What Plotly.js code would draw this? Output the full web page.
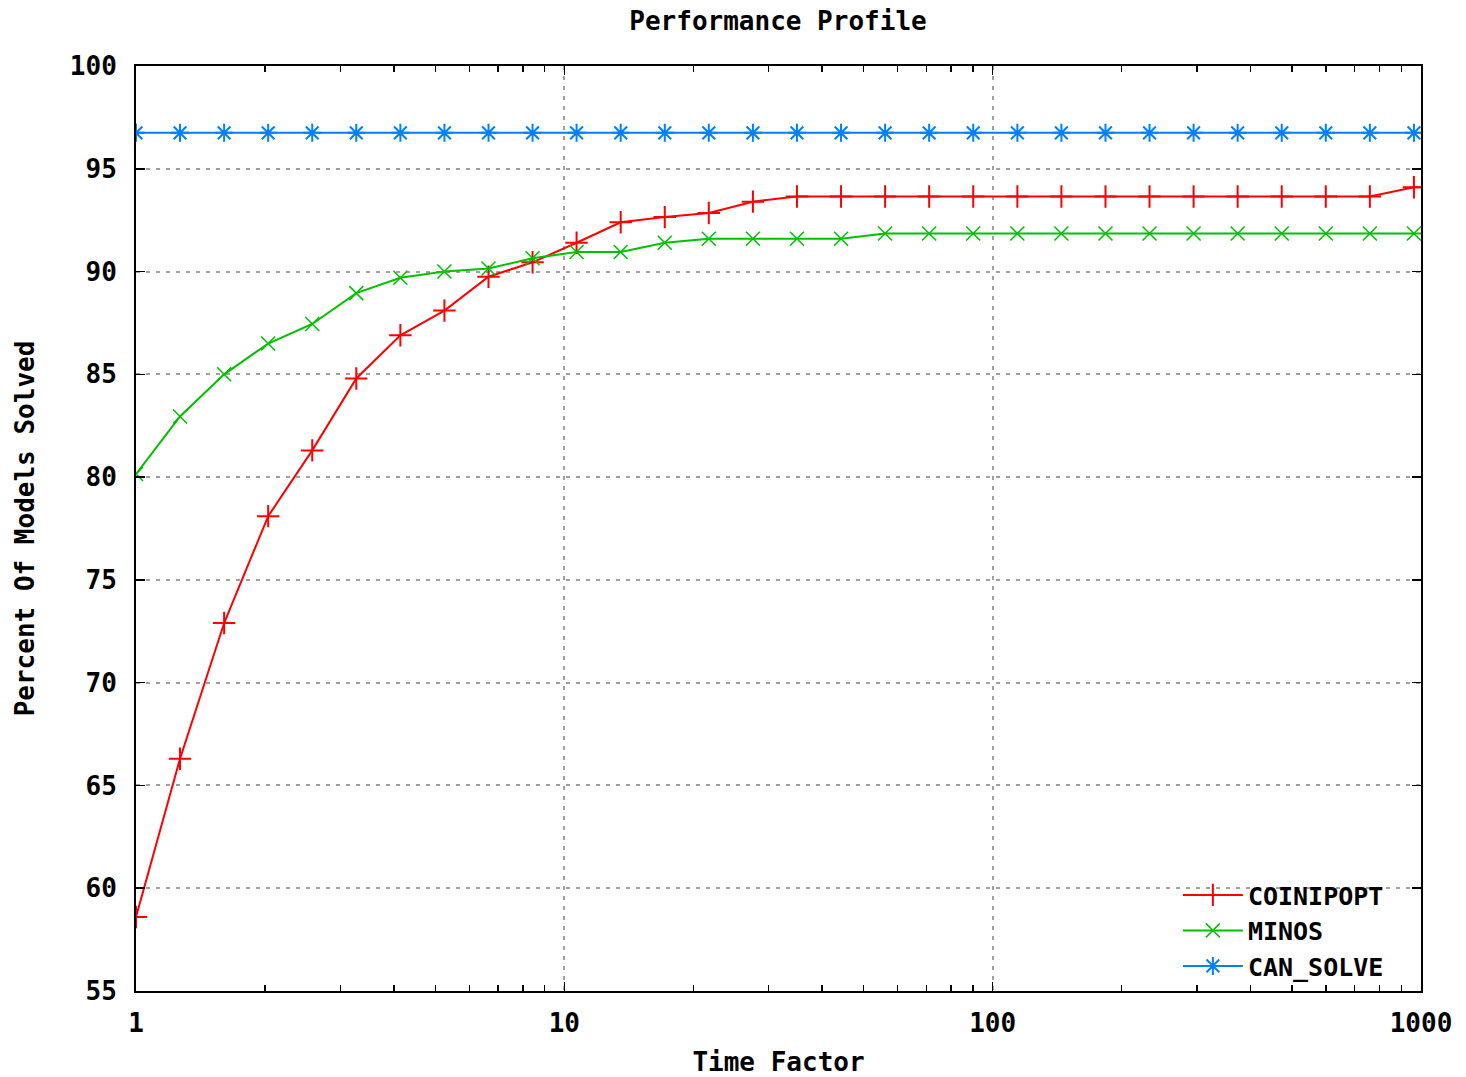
<!DOCTYPE html>
<html>
<head>
<meta charset="utf-8">
<script src="https://cdn.plot.ly/plotly-3.0.1.min.js"></script>
<style>html,body{margin:0;padding:0;background:#fff;}#chart{width:1466px;height:1077px;}</style>
</head>
<body>
<div id="chart"></div>
<script>
// Time factor (x) values at each sample point
const timeFactor = [1, 1.267, 1.606, 2.035, 2.579, 3.268, 4.142, 5.249, 6.652, 8.43,
  10.68, 13.54, 17.16, 21.74, 27.56, 34.92, 44.26, 56.09, 71.08, 90.08,
  114.2, 144.7, 183.4, 232.4, 294.5, 373.2, 473.0, 599.4, 759.6, 962.7, 1220];

const coinipopt = [58.6, 66.3, 72.9, 78.1, 81.3, 84.8, 86.9, 88.1, 89.75, 90.45,
  91.4, 92.4, 92.65, 92.85, 93.4, 93.65, 93.65, 93.65, 93.65, 93.65,
  93.65, 93.65, 93.65, 93.65, 93.65, 93.65, 93.65, 93.65, 93.65, 94.1, 94.1];

const minos = [80.15, 82.95, 85.0, 86.5, 87.45, 88.95, 89.7, 90.0, 90.15, 90.65,
  90.95, 90.95, 91.4, 91.6, 91.6, 91.6, 91.6, 91.85, 91.85, 91.85,
  91.85, 91.85, 91.85, 91.85, 91.85, 91.85, 91.85, 91.85, 91.85, 91.85, 91.85];

const canSolve = [96.75, 96.75, 96.75, 96.75, 96.75, 96.75, 96.75, 96.75, 96.75, 96.75,
  96.75, 96.75, 96.75, 96.75, 96.75, 96.75, 96.75, 96.75, 96.75, 96.75,
  96.75, 96.75, 96.75, 96.75, 96.75, 96.75, 96.75, 96.75, 96.75, 96.75, 96.75];

const seriesNames = ["COINIPOPT", "MINOS", "CAN_SOLVE"];
const xTickVals = [1, 10, 100, 1000];
const xTickText = ["1", "10", "100", "1000"];
const yTickVals = [55, 60, 65, 70, 75, 80, 85, 90, 95, 100];

const FONT = {family: "DejaVu Sans Mono, monospace", size: 26, color: "#000", weight: "bold"};
const LEGEND_FONT = {family: "DejaVu Sans Mono, monospace", size: 25, color: "#000", weight: "bold"};

const traces = [
  {x: timeFactor, y: coinipopt, name: seriesNames[0], type: "scatter", mode: "lines+markers",
   line: {color: "#ff0000", width: 2},
   marker: {symbol: "cross-thin", size: 16, line: {color: "#ff0000", width: 2}}},
  {x: timeFactor, y: minos, name: seriesNames[1], type: "scatter", mode: "lines+markers",
   line: {color: "#00c000", width: 2},
   marker: {symbol: "x-thin", size: 14, line: {color: "#00c000", width: 1.5}}},
  {x: timeFactor, y: canSolve, name: seriesNames[2], type: "scatter", mode: "lines+markers",
   line: {color: "#0080ff", width: 2},
   marker: {symbol: "asterisk", size: 15, line: {color: "#0080ff", width: 2}}}
];

const layout = {
  width: 1466, height: 1077,
  paper_bgcolor: "#fff", plot_bgcolor: "#fff",
  margin: {l: 136, r: 45, t: 66, b: 86, pad: 0},
  font: FONT,
  showlegend: true,
  title: {text: "Performance Profile", font: FONT, x: 0.5307, xanchor: "center", y: 0.981, yanchor: "middle"},
  xaxis: {
    type: "log", range: [0, 3], autorange: false,
    tickvals: xTickVals, ticktext: xTickText,
    ticks: "inside", ticklen: 9, tickwidth: 1.5, tickcolor: "#000",
    showline: true, linecolor: "#000", linewidth: 2, mirror: "ticks",
    showgrid: true, gridcolor: "#a0a0a0", gridwidth: 2, griddash: "4px,6px",
    zeroline: false,
    tickfont: FONT, ticklabelstandoff: 8,
    minor: {dtick: "D1", ticks: "inside", ticklen: 6, tickwidth: 1.5, tickcolor: "#000", showgrid: false},
    title: {text: "Time Factor", font: FONT, standoff: 35}
  },
  yaxis: {
    range: [55, 100], autorange: false,
    tickvals: yTickVals,
    ticks: "inside", ticklen: 9, tickwidth: 1.5, tickcolor: "#000",
    showline: true, linecolor: "#000", linewidth: 2, mirror: "ticks",
    showgrid: true, gridcolor: "#a0a0a0", gridwidth: 2, griddash: "4px,6px",
    zeroline: false,
    tickfont: FONT, ticklabelstandoff: 12,
    title: {text: "Percent Of Models Solved", font: FONT, standoff: 28}
  },
  legend: {
    x: 0.975, xanchor: "right", y: 0.002, yanchor: "bottom",
    bgcolor: "rgba(0,0,0,0)", borderwidth: 0,
    font: LEGEND_FONT, itemwidth: 60, tracegroupgap: 0
  }
};

Plotly.newPlot("chart", traces, layout, {displayModeBar: false, staticPlot: true});
</script>
</body>
</html>
